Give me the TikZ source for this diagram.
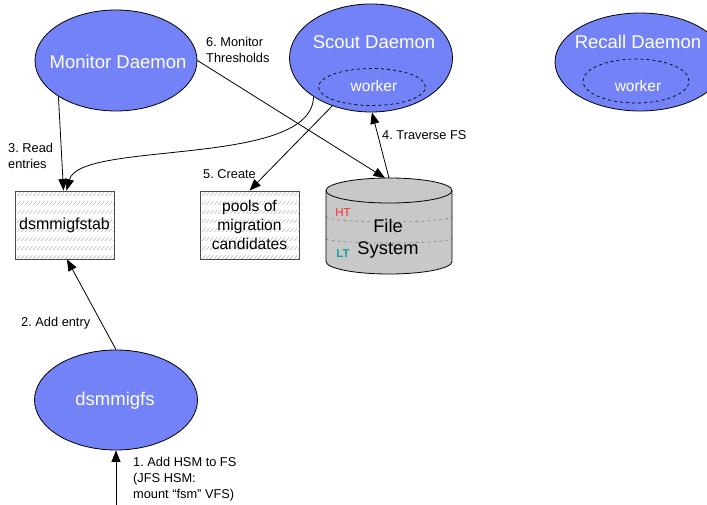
\documentclass[tikz,border=0pt]{standalone}
\usepackage{fontspec}
\setmainfont{Liberation Sans}
\usetikzlibrary{arrows.meta,shapes.geometric}
\definecolor{dblue}{RGB}{115,131,247}
\definecolor{htred}{RGB}{255,40,40}
\definecolor{ltteal}{RGB}{20,160,160}
\definecolor{fsgray}{RGB}{200,200,200}
\frenchspacing
\begin{document}
\begin{tikzpicture}[x=1pt,y=-1pt,
  daemon/.style={ellipse,draw=black,fill=dblue,line width=0.8pt,inner sep=0pt},
  wrk/.style={ellipse,draw=black,dashed,line width=0.7pt,inner sep=0pt},
  bigw/.style={text=white,inner sep=0pt,font=\fontsize{18.5}{20}\selectfont},
  smallw/.style={text=white,inner sep=0pt,font=\fontsize{15.5}{18}\selectfont},
  lbl/.style={align=left,anchor=west,inner sep=0pt,font=\fontsize{12.8}{16}\selectfont},
  arr/.style={line width=0.8pt,-{Triangle[length=11.5pt,width=9pt]}},
  plain/.style={line width=0.8pt},
  hbox/.style={draw=black!70,line width=0.8pt,minimum width=99pt,minimum height=68pt,inner sep=0pt,align=center},
  hatch/.style={draw=black!30,line width=0.5pt}
]
\clip (0,0) rectangle (707,505);

% ---- hatched boxes background
\foreach \bx in {15,200}{
  \begin{scope}
    \clip (\bx,191) rectangle ++(99,68);
    \foreach \r in {0,...,7}{
      \foreach \c in {0,...,26}{
        \draw[hatch] ({\bx+\c*4-2},{196+\r*9}) -- ++(3.5,-4);
      }
    }
  \end{scope}
}
\node[hbox,font=\fontsize{16}{19}\selectfont] (tab) at (64.5,225) {dsmmigfstab};
\node[hbox,font=\fontsize{15.6}{19}\selectfont] (pools) at (249.5,225) {pools of\\migration\\candidates};

% ---- daemons
\node[daemon,minimum width=162pt,minimum height=101pt] (mon) at (116,60.5) {};
\node[bigw] (montext) at (118,62) {Monitor Daemon};

\node[daemon,minimum width=163pt,minimum height=108pt] (scout) at (371,58) {};
\node[bigw] (scouttext) at (374,42) {Scout Daemon};
\node[wrk,minimum width=107pt,minimum height=37pt] (sw) at (372,87) {};
\node[smallw] (swtext) at (374,86) {worker};

\node[daemon,minimum width=170pt,minimum height=98pt] (rec) at (640,62) {};
\node[bigw] (rectext) at (638,42) {Recall Daemon};
\node[wrk,minimum width=106pt,minimum height=44pt] (rw) at (636,81) {};
\node[smallw] (rwtext) at (638,86) {worker};

\node[daemon,minimum width=163pt,minimum height=100pt] (dsm) at (116,400) {};
\node[bigw] (dsmtext) at (115,401) {dsmmigfs};

% ---- file system cylinder
\fill[fsgray] (326,190.5) -- (326,261.5) arc[start angle=180,end angle=0,x radius=63,y radius=12.5] -- (452,190.5) -- cycle;
\draw[dashed,black!45,line width=0.7pt] (326,216.5) arc[start angle=180,end angle=0,x radius=63,y radius=5.5];
\draw[dashed,black!45,line width=0.7pt] (326,238.5) arc[start angle=180,end angle=0,x radius=63,y radius=4.5];
\draw[plain] (326,190.5) -- (326,261.5) arc[start angle=180,end angle=0,x radius=63,y radius=12.5] -- (452,190.5);
\draw[plain,fill=fsgray] (389,190.5) ellipse [x radius=63,y radius=12.5];
\node[inner sep=0pt,align=center,font=\fontsize{18.3}{22}\selectfont] (fs) at (388,239) {File\\System};
\node[inner sep=0pt,text=htred,font=\fontsize{11.5}{12}\selectfont] (ht) at (343,213) {HT};
\node[inner sep=0pt,text=ltteal,font=\bfseries\fontsize{11.5}{12}\selectfont] (lt) at (343,254) {LT};
\coordinate (fsA) at (385,178);
\coordinate (fsB) at (389,178);

% ---- connectors
\draw[arr] (mon.212) -- ([xshift=-1pt]tab.north);
\draw[arr] (scout.214) .. controls (312,168) and (80,140) .. ([xshift=2pt]tab.north);
\draw[arr] (scout.231) -- (pools.north);
\draw[arr] (mon.east) -- (fsA);
\draw[arr] (fsB) -- (scout.271);
\draw[arr] (dsm.north) -- ([xshift=2.5pt]tab.south);
\coordinate (hsmin) at (116,505);
\draw[arr] (hsmin) -- (dsm.south);

% ---- labels
\node[lbl] (l3) at (8,156) {3. Read\\entries};
\node[lbl] (l6) at (206,50) {6. Monitor\\Thresholds};
\node[lbl] (l4) at (382,135) {4. Traverse FS};
\node[lbl] (l5) at (203,174) {5. Create};
\node[lbl] (l2) at (21,323) {2. Add entry};
\node[lbl] (l1) at (133,479) {1. Add HSM to FS\\(JFS HSM:\\mount “fsm” VFS)};
\end{tikzpicture}
\end{document}
